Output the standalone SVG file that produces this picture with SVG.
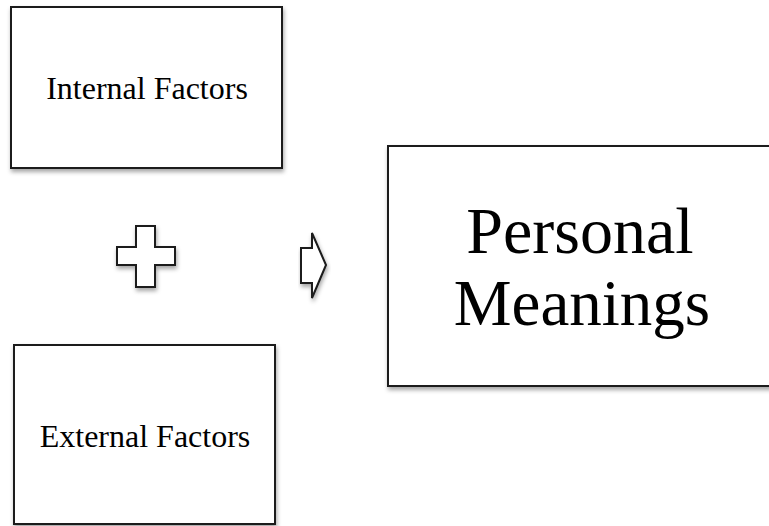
<svg xmlns="http://www.w3.org/2000/svg" width="769" height="526" viewBox="0 0 769 526">
<defs>
<filter id="sh" x="-10%" y="-10%" width="130%" height="130%">
<feDropShadow dx="1" dy="3" stdDeviation="2" flood-color="#000" flood-opacity="0.35"/>
</filter>
</defs>
<style>
.box{fill:#fff;stroke:#1a1a1a;stroke-width:2;filter:url(#sh)}
.t{font-family:"Liberation Serif","Times New Roman",serif;fill:#000;text-anchor:middle}
</style>
<rect width="769" height="526" fill="#fff"/>
<g id="internal">
<rect class="box" x="11" y="7" width="271" height="161"/>
<text class="t" x="147" y="99" font-size="32">Internal Factors</text>
</g>
<g id="external">
<rect class="box" x="14" y="345" width="261" height="179"/>
<text class="t" x="145" y="447" font-size="32">External Factors</text>
</g>
<g id="personal">
<rect class="box" x="388" y="146" width="390" height="240"/>
<text class="t" x="580" y="253" font-size="66">Personal</text>
<text class="t" x="582" y="325" font-size="65">Meanings</text>
</g>
<g id="connectors">
<path class="box" d="M136,226 H155 V247 H175 V265 H155 V287 H136 V265 H117 V247 H136 Z"/>
<path class="box" d="M301,248 H312 V233 L326,265 L312,298 V283 H301 Z"/>
</g>
</svg>
